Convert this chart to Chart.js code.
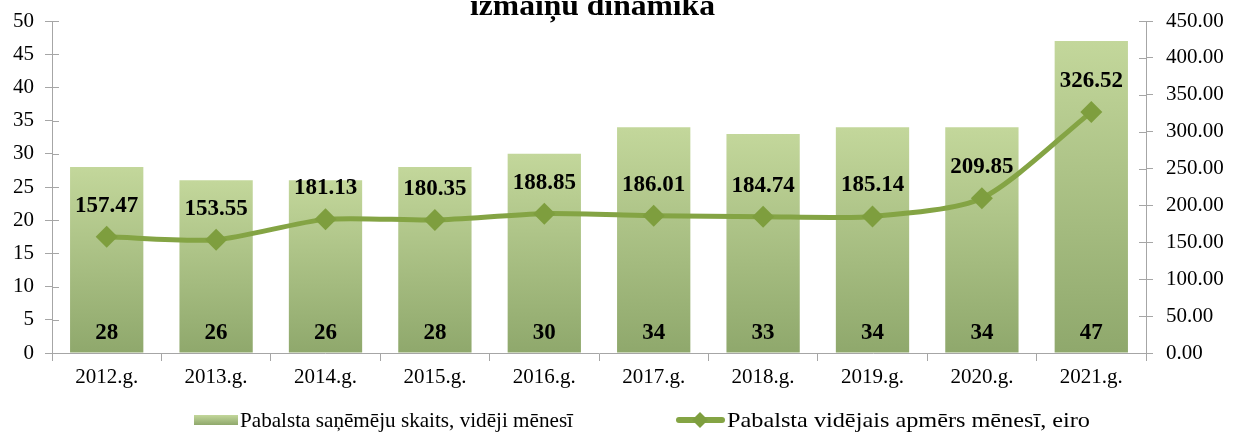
<!DOCTYPE html>
<html>
<head>
<meta charset="utf-8">
<script src="https://cdn.jsdelivr.net/npm/chart.js@4.4.1/dist/chart.umd.min.js"></script>
<style>
html,body{margin:0;padding:0;background:#fff;}
#wrap{width:1234px;height:432px;position:relative;}
</style>
</head>
<body>
<div id="wrap"><canvas id="c" width="1234" height="432"></canvas></div>
<script>
const categories = ['2012.g.','2013.g.','2014.g.','2015.g.','2016.g.','2017.g.','2018.g.','2019.g.','2020.g.','2021.g.'];
const recipients = [28, 26, 26, 28, 30, 34, 33, 34, 34, 47];
const avgAmount = [157.47, 153.55, 181.13, 180.35, 188.85, 186.01, 184.74, 185.14, 209.85, 326.52];
const titleText = 'izmaiņu dinamika';
const barLabel = 'Pabalsta saņēmēju skaits, vidēji mēnesī';
const lineLabel = 'Pabalsta vidējais apmērs mēnesī, eiro';

const SERIF = '"Liberation Serif", "Times New Roman", serif';
const AXIS = '#a6a6a6';
const BAR_TOP = '#c3d79b';
const BAR_BOT = '#8fa86c';
const LINE = '#84a444';
const MARK = '#7e9e3e';

function barFill(ctx) {
  const chart = ctx.chart;
  const area = chart.chartArea;
  if (!area || ctx.type !== 'data') return BAR_TOP;
  const y = chart.scales.y;
  const top = y.getPixelForValue(ctx.raw);
  const bottom = y.getPixelForValue(0);
  const g = chart.ctx.createLinearGradient(0, top, 0, bottom);
  g.addColorStop(0, BAR_TOP);
  g.addColorStop(1, BAR_BOT);
  return g;
}

function fitText(c, text, x, y, width) {
  const w = c.measureText(text).width;
  c.save();
  c.translate(x, y);
  c.scale(width / w, 1);
  c.fillText(text, 0, 0);
  c.restore();
}

const decorPlugin = {
  id: 'decor',
  afterDatasetsDraw(chart) {
    const c = chart.ctx;
    c.save();
    c.strokeStyle = AXIS; c.lineWidth = 1;
    const ys = chart.scales.y, y1 = chart.scales.y1;
    ys.ticks.forEach(t => {
      const p = Math.round(ys.getPixelForValue(t.value)) + 0.5;
      c.beginPath(); c.moveTo(ys.right, p); c.lineTo(ys.right + 7, p); c.stroke();
    });
    y1.ticks.forEach(t => {
      const p = Math.round(y1.getPixelForValue(t.value)) + 0.5;
      c.beginPath(); c.moveTo(y1.left - 7, p); c.lineTo(y1.left, p); c.stroke();
    });
    c.restore();

    c.save();
    c.font = 'bold 23px ' + SERIF;
    c.fillStyle = '#000';
    c.textAlign = 'center';
    c.textBaseline = 'middle';
    const barMeta = chart.getDatasetMeta(0);
    const base = ys.getPixelForValue(0);
    barMeta.data.forEach((el, i) => {
      c.fillText(String(recipients[i]), el.x, base - 20);
    });
    const lineMeta = chart.getDatasetMeta(1);
    lineMeta.data.forEach((el, i) => {
      c.fillText(avgAmount[i].toFixed(2), el.x, el.y - 31);
    });
    c.restore();
  },
  afterDraw(chart) {
    const c = chart.ctx;
    c.save();
    c.font = 'bold 30px ' + SERIF;
    c.fillStyle = '#000';
    c.textAlign = 'left';
    c.textBaseline = 'alphabetic';
    fitText(c, titleText, 470, 15, 245);
    c.restore();

    c.save();
    const ly = 420;
    const g = c.createLinearGradient(0, ly - 5, 0, ly + 5);
    g.addColorStop(0, BAR_TOP); g.addColorStop(1, BAR_BOT);
    c.fillStyle = g;
    c.fillRect(194, ly - 5, 44, 10);
    c.strokeStyle = LINE; c.lineWidth = 6; c.lineCap = 'round';
    c.beginPath(); c.moveTo(679, ly); c.lineTo(722, ly); c.stroke();
    c.fillStyle = MARK;
    c.beginPath();
    c.moveTo(700, ly - 8); c.lineTo(708, ly); c.lineTo(700, ly + 8); c.lineTo(692, ly);
    c.closePath(); c.fill();
    c.font = '21px ' + SERIF;
    c.fillStyle = '#000';
    c.textBaseline = 'middle';
    c.textAlign = 'left';
    fitText(c, barLabel, 240, ly + 1, 333);
    fitText(c, lineLabel, 727, ly + 1, 363);
    c.restore();
  }
};

new Chart(document.getElementById('c'), {
  data: {
    labels: categories,
    datasets: [
      {
        type: 'bar',
        label: barLabel,
        data: recipients,
        yAxisID: 'y',
        backgroundColor: barFill,
        borderWidth: 0,
        barPercentage: 0.67,
        categoryPercentage: 1.0,
        order: 2
      },
      {
        type: 'line',
        label: lineLabel,
        data: avgAmount,
        yAxisID: 'y1',
        borderColor: LINE,
        borderWidth: 5,
        tension: 0.25,
        pointStyle: 'rectRot',
        pointRadius: 11,
        pointBackgroundColor: MARK,
        pointBorderColor: MARK,
        pointBorderWidth: 0,
        order: 1
      }
    ]
  },
  options: {
    responsive: false,
    animation: false,
    devicePixelRatio: 1,
    layout: { padding: { top: 21, left: 0, right: 0, bottom: 0 } },
    plugins: {
      legend: { display: false },
      title: { display: false },
      tooltip: { enabled: false }
    },
    scales: {
      x: {
        offset: true,
        grid: { display: true, drawOnChartArea: false, offset: true, tickLength: 8, color: AXIS },
        border: { color: AXIS },
        ticks: { color: '#000', font: { family: SERIF, size: 21 }, padding: 4, maxRotation: 0 },
        afterFit(s) { s.height = 79; s.paddingLeft = 0; s.paddingRight = 0; }
      },
      y: {
        position: 'left',
        min: 0, max: 50,
        ticks: { stepSize: 5, color: '#000', font: { family: SERIF, size: 21 }, padding: 11 },
        grid: { drawOnChartArea: false, tickLength: 7, color: AXIS },
        border: { color: AXIS },
        afterFit(s) { s.width = 52; s.paddingTop = 0; s.paddingBottom = 0; }
      },
      y1: {
        position: 'right',
        min: 0, max: 450,
        ticks: { stepSize: 50, color: '#000', font: { family: SERIF, size: 21 }, padding: 13,
          callback: v => Number(v).toFixed(2) },
        grid: { drawOnChartArea: false, tickLength: 7, color: AXIS },
        border: { color: AXIS },
        afterFit(s) { s.width = 88; s.paddingTop = 0; s.paddingBottom = 0; }
      }
    }
  },
  plugins: [decorPlugin]
});
</script>
</body>
</html>
